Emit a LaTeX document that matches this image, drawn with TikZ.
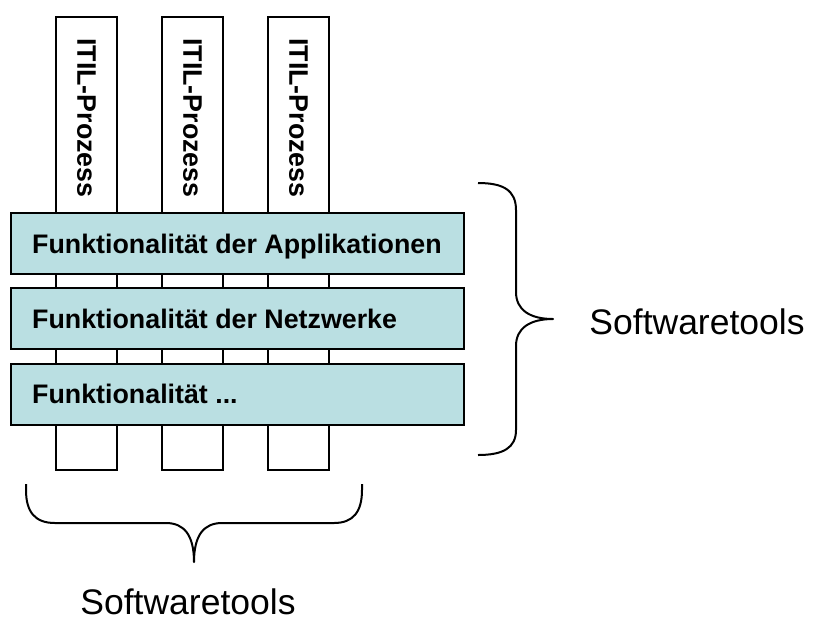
\documentclass[tikz,border=0pt]{standalone}
\usepackage{fontspec}
\setmainfont{Liberation Sans}
\definecolor{barfill}{HTML}{BADFE2}
\begin{document}
\begin{tikzpicture}[x=1pt,y=-1pt,
  pillar/.style={draw=black,line width=2pt,fill=white,minimum width=61pt,minimum height=453pt,inner sep=0pt},
  bar/.style={draw=black,line width=2pt,fill=barfill,minimum width=453pt,minimum height=61pt,inner sep=0pt},
  bartext/.style={font=\fontsize{26.8}{30}\selectfont\bfseries,inner sep=0pt,anchor=base west},
  ptext/.style={font=\fontsize{26.8}{30}\selectfont\bfseries,inner sep=0pt,rotate=-90,anchor=west},
  brace/.style={draw=black,line width=2pt,line join=round},
  bigtext/.style={font=\fontsize{35.5}{40}\selectfont,inner sep=0pt,anchor=base}]
\useasboundingbox (0,0) rectangle (816,622);
% pillars
\node[pillar] (p1) at (86.5,243.5) {};
\node[pillar] (p2) at (192.5,243.5) {};
\node[pillar] (p3) at (298.5,243.5) {};
\node[ptext] (t1) at ([yshift=-22pt]p1.north) {ITIL-Prozess};
\node[ptext] (t2) at ([yshift=-22pt]p2.north) {ITIL-Prozess};
\node[ptext] (t3) at ([yshift=-22pt]p3.north) {ITIL-Prozess};
% bars
\node[bar] (b1) at (237.5,243.5) {};
\node[bar] (b2) at (237.5,318.5) {};
\node[bar] (b3) at (237.5,394) {};
\node[bartext] (bt1) at ([xshift=22pt,yshift=-9.5pt]b1.west) {Funktionalität der Applikationen};
\node[bartext] (bt2) at ([xshift=22pt,yshift=-9.5pt]b2.west) {Funktionalität der Netzwerke};
\node[bartext] (bt3) at ([xshift=22pt,yshift=-9.5pt]b3.west) {Funktionalität ...};
% right brace
\draw[brace] (478,183) .. controls (503,183) and (516,190) .. (516,210)
  -- (516,292) .. controls (516,310) and (530,319) .. (553,319)
  .. controls (530,319) and (516,328) .. (516,346)
  -- (516,430) .. controls (516,448) and (503,455) .. (478,455);
\node[bigtext] (s1) at (697,334) {Softwaretools};
% bottom brace
\draw[brace] (26,484) -- (26,490) .. controls (26,512) and (35,523) .. (55,523)
  -- (166,523) .. controls (184,523) and (194,535) .. (194,562)
  .. controls (194,535) and (204,523) .. (222,523)
  -- (334,523) .. controls (353,523) and (362,512) .. (362,490) -- (362,484);
\node[bigtext] (s2) at (188,614) {Softwaretools};
\end{tikzpicture}
\end{document}
